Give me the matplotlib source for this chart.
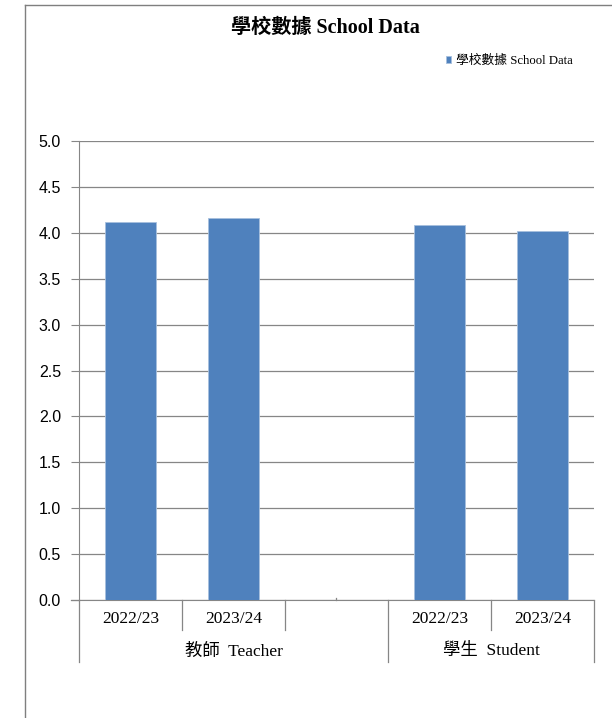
import matplotlib.pyplot as plt
from matplotlib.lines import Line2D

plt.rcParams['font.family'] = ['Liberation Serif', 'Noto Sans CJK TC']

years = ['2022/23', '2023/24', '', '2022/23', '2023/24']
groups = ['教師  Teacher', '學生  Student']
group_sizes = [3, 2]
values = [4.12, 4.16, None, 4.09, 4.02]
yticks = [0.0, 0.5, 1.0, 1.5, 2.0, 2.5, 3.0, 3.5, 4.0, 4.5, 5.0]

blue = '#4f81bd'
gray = '#868686'

fig = plt.figure(figsize=(6.12, 7.18), dpi=100)
ax = fig.add_axes([0.129, 0.1643, 0.8415, 0.6393])

xs = [i for i, v in enumerate(values) if v is not None]
vs = [v for v in values if v is not None]
ax.bar(xs, vs, width=0.5, color=blue, edgecolor='#a7c0de', linewidth=0.6, zorder=3,
       label='學校數據 School Data')

ax.set_xlim(-0.5, len(years) - 0.5)
ax.set_ylim(0, 5)
ax.set_yticks(yticks)
ax.set_yticklabels(['%.1f' % t for t in yticks], family=['Liberation Sans'], fontsize=11.5)
ax.grid(axis='y', color=gray, linewidth=0.9, zorder=0)
ax.tick_params(axis='y', length=6, color=gray, pad=7)
ax.set_xticks([])
for s in ['top', 'right']:
    ax.spines[s].set_visible(False)
ax.spines['left'].set_color(gray)
ax.spines['bottom'].set_color(gray)

# category axis: year labels and group labels
trans = ax.get_xaxis_transform()
for i, y in enumerate(years):
    ax.text(i, -0.042, y, transform=trans, ha='center', va='center', fontsize=12.5)
# short separators between year labels
for b in [0.5, 1.5, 3.5]:
    ax.add_line(Line2D([b, b], [0, -0.066], transform=trans, color=gray, lw=0.9, clip_on=False))
# long separators at group edges
start = 0
edges = [-0.5]
for g, n in zip(groups, group_sizes):
    mid = start - 0.5 + n / 2
    ax.text(mid, -0.112, g, transform=trans, ha='center', va='center', fontsize=12.5)
    start += n
    edges.append(start - 0.5)
for b in edges:
    ax.add_line(Line2D([b, b], [0, -0.135], transform=trans, color=gray, lw=0.9, clip_on=False))
ax.add_line(Line2D([-0.58, -0.5], [0, 0], transform=trans, color=gray, lw=0.9, clip_on=False))
ax.add_line(Line2D([2, 2], [0, 0.004], transform=trans, color=gray, lw=0.9, clip_on=False))

fig.text(0.531, 0.961, '學校數據 School Data', ha='center', va='center',
         fontsize=14.5, fontweight='bold')
ax.legend(loc='center left', bbox_to_anchor=(0.728, 0.915), bbox_transform=fig.transFigure,
          frameon=False, fontsize=9.2, handlelength=0.45, handleheight=0.45, handletextpad=0.35,
          borderpad=0, borderaxespad=0)

# outer chart border (left and top)
fig.add_artist(Line2D([0.041, 0.041], [0, 0.993], transform=fig.transFigure, color='#7f7f7f', lw=1))
fig.add_artist(Line2D([0.041, 1.0], [0.993, 0.993], transform=fig.transFigure, color='#7f7f7f', lw=1))

fig.savefig('out.png', dpi=100)
